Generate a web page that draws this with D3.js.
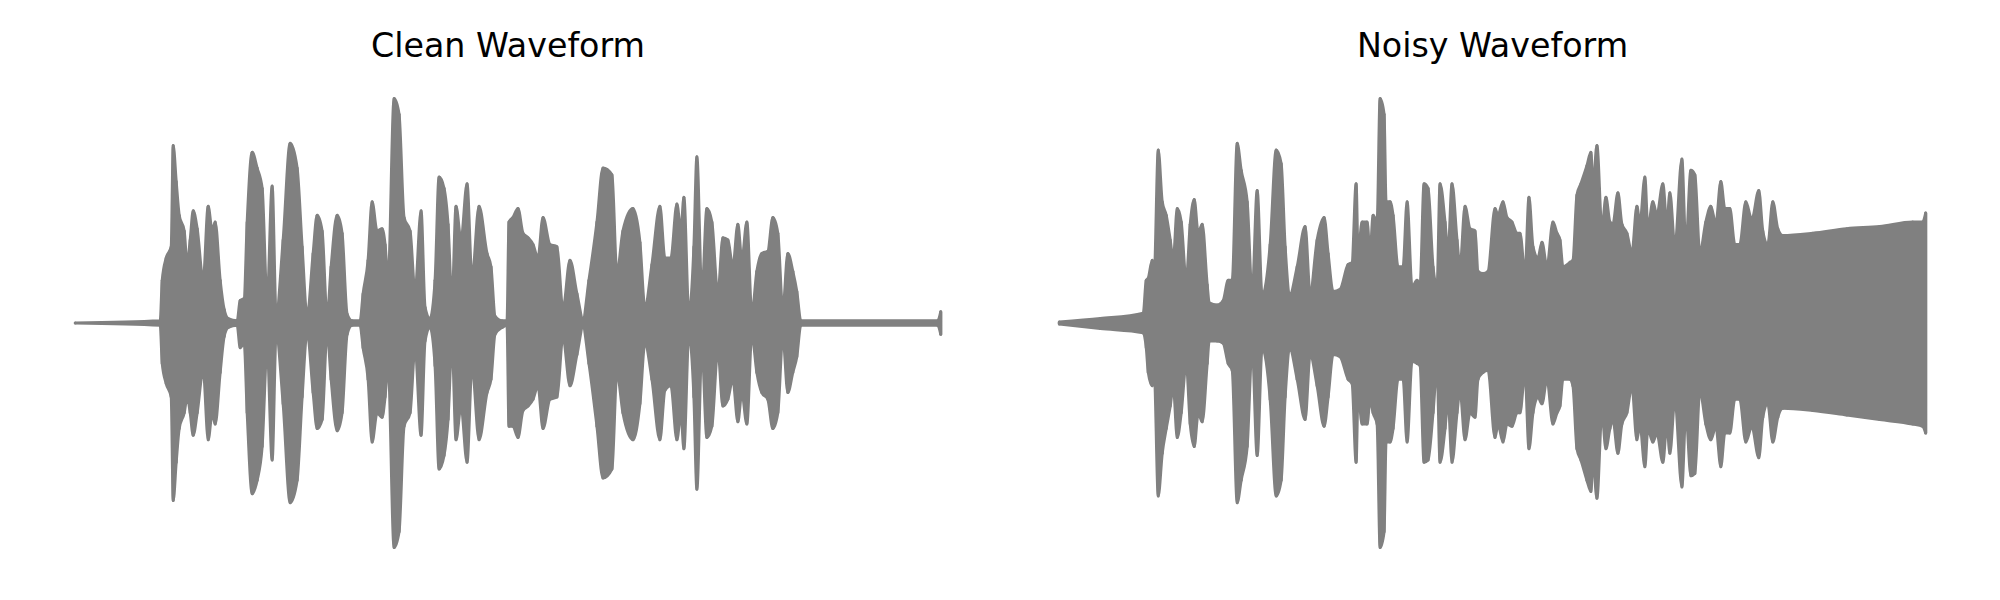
<!DOCTYPE html>
<html>
<head>
<meta charset="utf-8">
<script src="https://cdn.jsdelivr.net/npm/d3@7"></script>
<style>
  html, body { margin: 0; padding: 0; background: #ffffff; }
  svg { display: block; }
</style>
</head>
<body>
<svg id="chart" width="2000" height="600"></svg>
<script>
// ---------- DATA (envelope frames and amplitudes) ----------
const panelTitles = ["Clean Waveform", "Noisy Waveform"];

const cleanFrames = [0,85,87,91,96,98,101,104,109,112,115,118,122,128,133,137,140,145,149,153,162,165,169,172,177,182,187,192,197,201,208,215,222,227,232,238,242,247,252,256,262,267,272,277,285,288,293,297,302,307,310,313,319,324,329,335,340,346,350,355,360,364,369,373,377,381,386,392,397,404,412,416,420,427,432,434,438,443,448,453,458,463,468,475,482,488,495,502,508,514,522,528,537,542,548,558,565,570,577,585,590,596,602,606,609,614,619,622,627,632,637,643,648,653,658,663,667,672,677,682,687,693,698,703,708,713,718,722,726,863,866];
const cleanTop = [0,0.01,0.19,0.29,0.34,0.79,0.63,0.48,0.41,0.26,0.37,0.50,0.42,0.19,0.52,0.41,0.45,0.19,0.06,0.02,0.01,0.10,0.11,0.45,0.76,0.69,0.60,0.10,0.61,0.04,0.37,0.80,0.69,0.34,0.03,0.31,0.48,0.41,0.03,0.25,0.48,0.40,0.04,0.01,0.01,0.13,0.28,0.54,0.41,0.42,0.35,0.19,1.00,0.93,0.47,0.41,0.14,0.50,0.07,0.02,0.19,0.65,0.60,0.44,0.10,0.52,0.37,0.62,0.20,0.52,0.31,0.25,0.03,0.01,0.01,0.45,0.47,0.51,0.40,0.38,0.35,0.29,0.47,0.35,0.34,0.06,0.28,0.13,0.02,0.19,0.45,0.69,0.66,0.22,0.41,0.51,0.36,0.07,0.26,0.52,0.29,0.29,0.53,0.41,0.56,0.04,0.34,0.74,0.13,0.51,0.45,0.13,0.38,0.37,0.25,0.44,0.28,0.45,0.04,0.23,0.31,0.32,0.47,0.40,0.06,0.31,0.23,0.14,0.01,0.01,0.05];
const cleanBottom = [0,-0.01,-0.18,-0.27,-0.33,-0.79,-0.62,-0.47,-0.40,-0.33,-0.40,-0.50,-0.40,-0.21,-0.52,-0.40,-0.45,-0.22,-0.06,-0.02,-0.01,-0.11,-0.09,-0.40,-0.76,-0.70,-0.55,-0.11,-0.61,-0.05,-0.36,-0.80,-0.70,-0.33,-0.04,-0.31,-0.47,-0.43,-0.04,-0.25,-0.48,-0.40,-0.05,-0.01,-0.01,-0.11,-0.25,-0.53,-0.40,-0.42,-0.33,-0.18,-1.00,-0.93,-0.46,-0.40,-0.11,-0.50,-0.08,-0.02,-0.19,-0.65,-0.59,-0.43,-0.09,-0.52,-0.37,-0.62,-0.19,-0.52,-0.31,-0.25,-0.05,-0.02,-0.01,-0.46,-0.46,-0.51,-0.39,-0.37,-0.34,-0.28,-0.47,-0.34,-0.33,-0.06,-0.28,-0.14,-0.02,-0.18,-0.46,-0.69,-0.65,-0.22,-0.40,-0.52,-0.36,-0.09,-0.25,-0.52,-0.30,-0.28,-0.52,-0.40,-0.56,-0.05,-0.33,-0.74,-0.11,-0.51,-0.46,-0.12,-0.37,-0.34,-0.25,-0.44,-0.31,-0.45,-0.05,-0.22,-0.31,-0.34,-0.47,-0.40,-0.06,-0.31,-0.22,-0.15,-0.01,-0.01,-0.05];

const noisyFrames = [0,41,84,87,89,93,95,99,103,107,111,114,118,122,127,131,135,139,143,148,150,158,164,169,173,178,182,188,193,198,203,211,217,222,226,231,238,246,251,258,265,269,274,281,289,293,297,299,303,308,311,314,318,321,325,327,331,334,339,344,348,353,358,361,365,369,374,378,381,386,389,393,398,401,406,411,416,419,424,429,436,439,444,448,453,458,461,466,470,474,479,483,488,494,498,501,504,511,514,518,522,528,532,534,538,543,547,551,554,559,563,568,573,578,581,586,589,594,598,604,608,611,616,623,627,632,636,641,647,652,657,662,666,671,676,681,687,693,700,704,709,714,719,724,754,788,821,854,864,867];
const noisyTop = [0.005,0.02,0.044,0.19,0.20,0.28,0.22,0.77,0.54,0.48,0.37,0.28,0.51,0.45,0.19,0.44,0.55,0.40,0.44,0.17,0.09,0.08,0.10,0.19,0.19,0.80,0.68,0.54,0.13,0.59,0.12,0.35,0.77,0.71,0.34,0.13,0.25,0.43,0.13,0.37,0.47,0.31,0.14,0.15,0.26,0.27,0.62,0.31,0.45,0.45,0.31,0.48,0.45,1.00,0.93,0.54,0.54,0.48,0.25,0.25,0.54,0.16,0.19,0.17,0.62,0.60,0.25,0.16,0.62,0.45,0.31,0.62,0.37,0.25,0.52,0.42,0.41,0.23,0.22,0.23,0.51,0.48,0.54,0.47,0.45,0.40,0.40,0.22,0.56,0.34,0.29,0.36,0.25,0.45,0.40,0.37,0.25,0.27,0.28,0.57,0.62,0.70,0.76,0.60,0.79,0.42,0.56,0.45,0.44,0.58,0.44,0.40,0.31,0.52,0.44,0.65,0.42,0.54,0.48,0.62,0.44,0.58,0.34,0.73,0.34,0.68,0.66,0.31,0.45,0.52,0.44,0.63,0.51,0.51,0.35,0.35,0.54,0.46,0.59,0.41,0.35,0.54,0.42,0.39,0.40,0.42,0.43,0.45,0.45,0.49];
const noisyBottom = [-0.005,-0.025,-0.044,-0.11,-0.22,-0.28,-0.22,-0.77,-0.58,-0.47,-0.37,-0.28,-0.51,-0.40,-0.18,-0.45,-0.55,-0.40,-0.44,-0.18,-0.08,-0.08,-0.09,-0.18,-0.21,-0.80,-0.70,-0.55,-0.11,-0.59,-0.11,-0.34,-0.77,-0.70,-0.33,-0.12,-0.25,-0.43,-0.14,-0.28,-0.46,-0.33,-0.14,-0.15,-0.25,-0.27,-0.62,-0.31,-0.45,-0.45,-0.34,-0.40,-0.45,-1.00,-0.93,-0.53,-0.53,-0.47,-0.25,-0.25,-0.53,-0.17,-0.18,-0.19,-0.62,-0.61,-0.40,-0.20,-0.62,-0.47,-0.34,-0.62,-0.40,-0.30,-0.52,-0.40,-0.42,-0.25,-0.22,-0.21,-0.51,-0.45,-0.53,-0.45,-0.46,-0.40,-0.40,-0.22,-0.56,-0.40,-0.33,-0.36,-0.25,-0.45,-0.40,-0.37,-0.25,-0.25,-0.28,-0.56,-0.61,-0.70,-0.75,-0.60,-0.78,-0.40,-0.56,-0.47,-0.43,-0.58,-0.45,-0.40,-0.28,-0.52,-0.45,-0.64,-0.47,-0.53,-0.49,-0.62,-0.45,-0.58,-0.34,-0.73,-0.40,-0.68,-0.67,-0.30,-0.45,-0.52,-0.46,-0.64,-0.49,-0.49,-0.34,-0.34,-0.53,-0.46,-0.60,-0.42,-0.36,-0.53,-0.42,-0.38,-0.39,-0.41,-0.43,-0.45,-0.46,-0.49];

// ---------- LAYOUT ----------
const W = 2000, H = 600;
const svg = d3.select("#chart");
svg.append("rect").attr("width", W).attr("height", H).attr("fill", "#ffffff");

const panels = [
  { title: panelTitles[0], frames: cleanFrames, top: cleanTop, bottom: cleanBottom, left: 32, width: 952 },
  { title: panelTitles[1], frames: noisyFrames, top: noisyTop, bottom: noisyBottom, left: 1016, width: 953 }
];
const axTop = 76, axHeight = 494;
const color = "#808080";

panels.forEach(p => {
  const data = p.frames.map((f, i) => ({ f, top: p.top[i], bottom: p.bottom[i] }));
  const ext = d3.extent(p.frames);
  const pad = (ext[1] - ext[0]) * 0.05;
  const x = d3.scaleLinear().domain([ext[0] - pad, ext[1] + pad]).range([p.left, p.left + p.width]);
  const y = d3.scaleLinear().domain([-1.1, 1.1]).range([axTop + axHeight, axTop]);

  const area = d3.area()
    .x(d => x(d.f))
    .y0(d => y(d.bottom))
    .y1(d => y(d.top))
    .curve(d3.curveMonotoneX);

  const g = svg.append("g");
  g.append("path")
    .datum(data)
    .attr("d", area)
    .attr("fill", color)
    .attr("stroke", color)
    .attr("stroke-width", 3)
    .attr("stroke-linejoin", "round")
    .attr("stroke-linecap", "round");

  // thin vertical strokes at each sampled frame (waveform texture)
  g.selectAll("line.col")
    .data(data)
    .join("line")
    .attr("class", "col")
    .attr("x1", d => x(d.f)).attr("x2", d => x(d.f))
    .attr("y1", d => y(d.top)).attr("y2", d => y(d.bottom))
    .attr("stroke", color)
    .attr("stroke-width", 3)
    .attr("stroke-linecap", "round");

  g.append("text")
    .attr("x", p.left + p.width / 2)
    .attr("y", 57)
    .attr("text-anchor", "middle")
    .attr("font-family", "DejaVu Sans")
    .attr("font-size", 33.3)
    .attr("fill", "#000000")
    .text(p.title);
});
</script>
</body>
</html>
